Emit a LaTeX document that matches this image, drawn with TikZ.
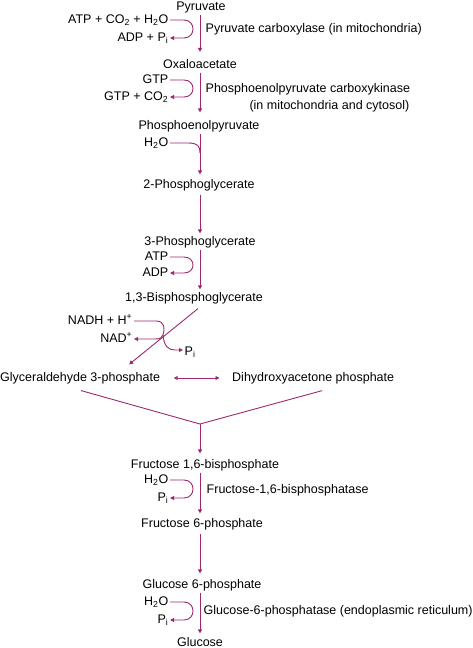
\documentclass[tikz,border=0pt]{standalone}
\usepackage{fontspec}
\setmainfont{Liberation Sans}
\usetikzlibrary{arrows.meta}
\definecolor{pw}{RGB}{158,40,110}
\tikzset{
  txt/.style={inner sep=1.5pt, font=\fontsize{12.5}{14}\selectfont, text height=9pt, text depth=2.8pt},
  ln/.style={draw=pw, line width=0.9pt},
  arr/.style={ln, -{Triangle[length=4pt,width=4pt]}},
  darr/.style={ln, {Triangle[length=4pt,width=4pt]}-{Triangle[length=4pt,width=4pt]}},
}
\newcommand{\sub}[1]{\textsubscript{#1}}
\newcommand{\supr}[1]{\textsuperscript{#1}}
\begin{document}
\begin{tikzpicture}[x=1pt,y=-1pt]
\useasboundingbox (0,0) rectangle (473,648);
\coordinate (ax) at (200,0);
% metabolites
\node[txt] (pyr) at (201,7) {Pyruvate};
\node[txt] (oxa) at (200,65) {Oxaloacetate};
\node[txt] (pep) at (199,126) {Phosphoenolpyruvate};
\node[txt] (pg2) at (199,185) {2-Phosphoglycerate};
\node[txt] (pg3) at (200,242) {3-Phosphoglycerate};
\node[txt] (bpg) at (194,298) {1,3-Bisphosphoglycerate};
\node[txt,anchor=west] (gap) at (-1.5,378) {Glyceraldehyde 3-phosphate};
\node[txt,anchor=west] (dhap) at (230.5,378) {Dihydroxyacetone phosphate};
\node[txt] (f16) at (205,465) {Fructose 1,6-bisphosphate};
\node[txt] (f6) at (202,524) {Fructose 6-phosphate};
\node[txt] (g6) at (202,585) {Glucose 6-phosphate};
\node[txt] (glc) at (200,643) {Glucose};
% side reactants
\node[txt,anchor=east] (r1) at (170,20) {ATP + CO\sub{2} + H\sub{2}O};
\node[txt,anchor=east] (p1) at (170,38) {ADP + P\sub{i}};
\node[txt,anchor=east] (r2) at (170,80) {GTP};
\node[txt,anchor=east] (p2) at (170,97) {GTP + CO\sub{2}};
\node[txt,anchor=east] (r3) at (170,143) {H\sub{2}O};
\node[txt,anchor=east] (r4) at (170,257) {ATP};
\node[txt,anchor=east] (p4) at (170,273) {ADP};
\node[txt,anchor=east] (r5) at (134,321) {NADH + H\supr{+}};
\node[txt,anchor=east] (p5) at (134,339) {NAD\supr{+}};
\node[txt,anchor=west] (q5) at (183,352) {P\sub{i}};
\node[txt,anchor=east] (r6) at (170,480) {H\sub{2}O};
\node[txt,anchor=east] (p6) at (170,498) {P\sub{i}};
\node[txt,anchor=east] (r7) at (170,602) {H\sub{2}O};
\node[txt,anchor=east] (p7) at (170,620) {P\sub{i}};
% enzymes
\node[txt,anchor=west] (e1) at (204,29) {Pyruvate carboxylase (in mitochondria)};
\node[txt,anchor=west] (e2) at (204,89) {Phosphoenolpyruvate carboxykinase};
\node[txt,anchor=east] (e2b) at (411,106) {(in mitochondria and cytosol)};
\node[txt,anchor=west] (e6) at (205,490) {Fructose-1,6-bisphosphatase};
\node[txt,anchor=west] (e7) at (202,611) {Glucose-6-phosphatase (endoplasmic reticulum)};
% main arrows
\coordinate (m) at (200,424);
\draw[arr] (pyr.south -| ax) -- ([yshift=5.5pt]oxa.north -| ax);
\draw[arr] (oxa.south -| ax) -- ([yshift=6pt]pep.north -| ax);
\draw[arr] (pep.south -| ax) -- ([yshift=3pt]pg2.north -| ax);
\draw[arr] ([yshift=-2pt]pg2.south -| ax) -- ([yshift=1pt]pg3.north -| ax);
\draw[arr] (pg3.south -| ax) -- ([yshift=1pt]bpg.north -| ax);
\draw[arr] ([xshift=4pt,yshift=-3pt]bpg.south) -- ([xshift=49pt,yshift=6pt]gap.north);
\draw[ln] ([xshift=1pt,yshift=-5pt]gap.south) -- (m);
\draw[ln] ([xshift=9pt,yshift=-5pt]dhap.south) -- (m);
\draw[arr] (m) -- ([yshift=4pt]f16.north -| ax);
\draw[arr] (f16.south -| ax) -- ([yshift=3pt]f6.north -| ax);
\draw[arr] ([yshift=-2pt]f6.south -| ax) -- ([yshift=4pt]g6.north -| ax);
\draw[arr] (g6.south -| ax) -- ([yshift=2pt]glc.north -| ax);
\draw[darr] ([xshift=12pt]gap.east) -- ([xshift=-11pt]dhap.west);
% side curves
\draw[arr] (r1.east) -- (184,20) .. controls (196,20) and (196,38) .. (184,38) -- (p1.east);
\draw[arr] (r2.east) -- (184,80) .. controls (196,80) and (196,97) .. (184,97) -- (p2.east);
\draw[ln] (r3.east) -- (188,143) .. controls (198,143) and (200,146) .. (200,153);
\draw[arr] (r4.east) -- (184,257) .. controls (196,257) and (196,273) .. (184,273) -- (p4.east);
\draw[arr] (r6.east) -- (184,480) .. controls (196,480) and (196,498) .. (184,498) -- (p6.east);
\draw[arr] (r7.east) -- (184,602) .. controls (196,602) and (196,620) .. (184,620) -- (p7.east);
\coordinate (nx) at (163,335);
\draw[ln] (r5.east) -- (156,321) .. controls (165,321) and (165,329) .. (nx);
\draw[arr] (nx) .. controls (162,338) and (160,339) .. (155,339) -- (p5.east);
\draw[arr] (nx) .. controls (164,346) and (168,350) .. (175,350) -- ([yshift=2pt]q5.west);
\end{tikzpicture}
\end{document}
